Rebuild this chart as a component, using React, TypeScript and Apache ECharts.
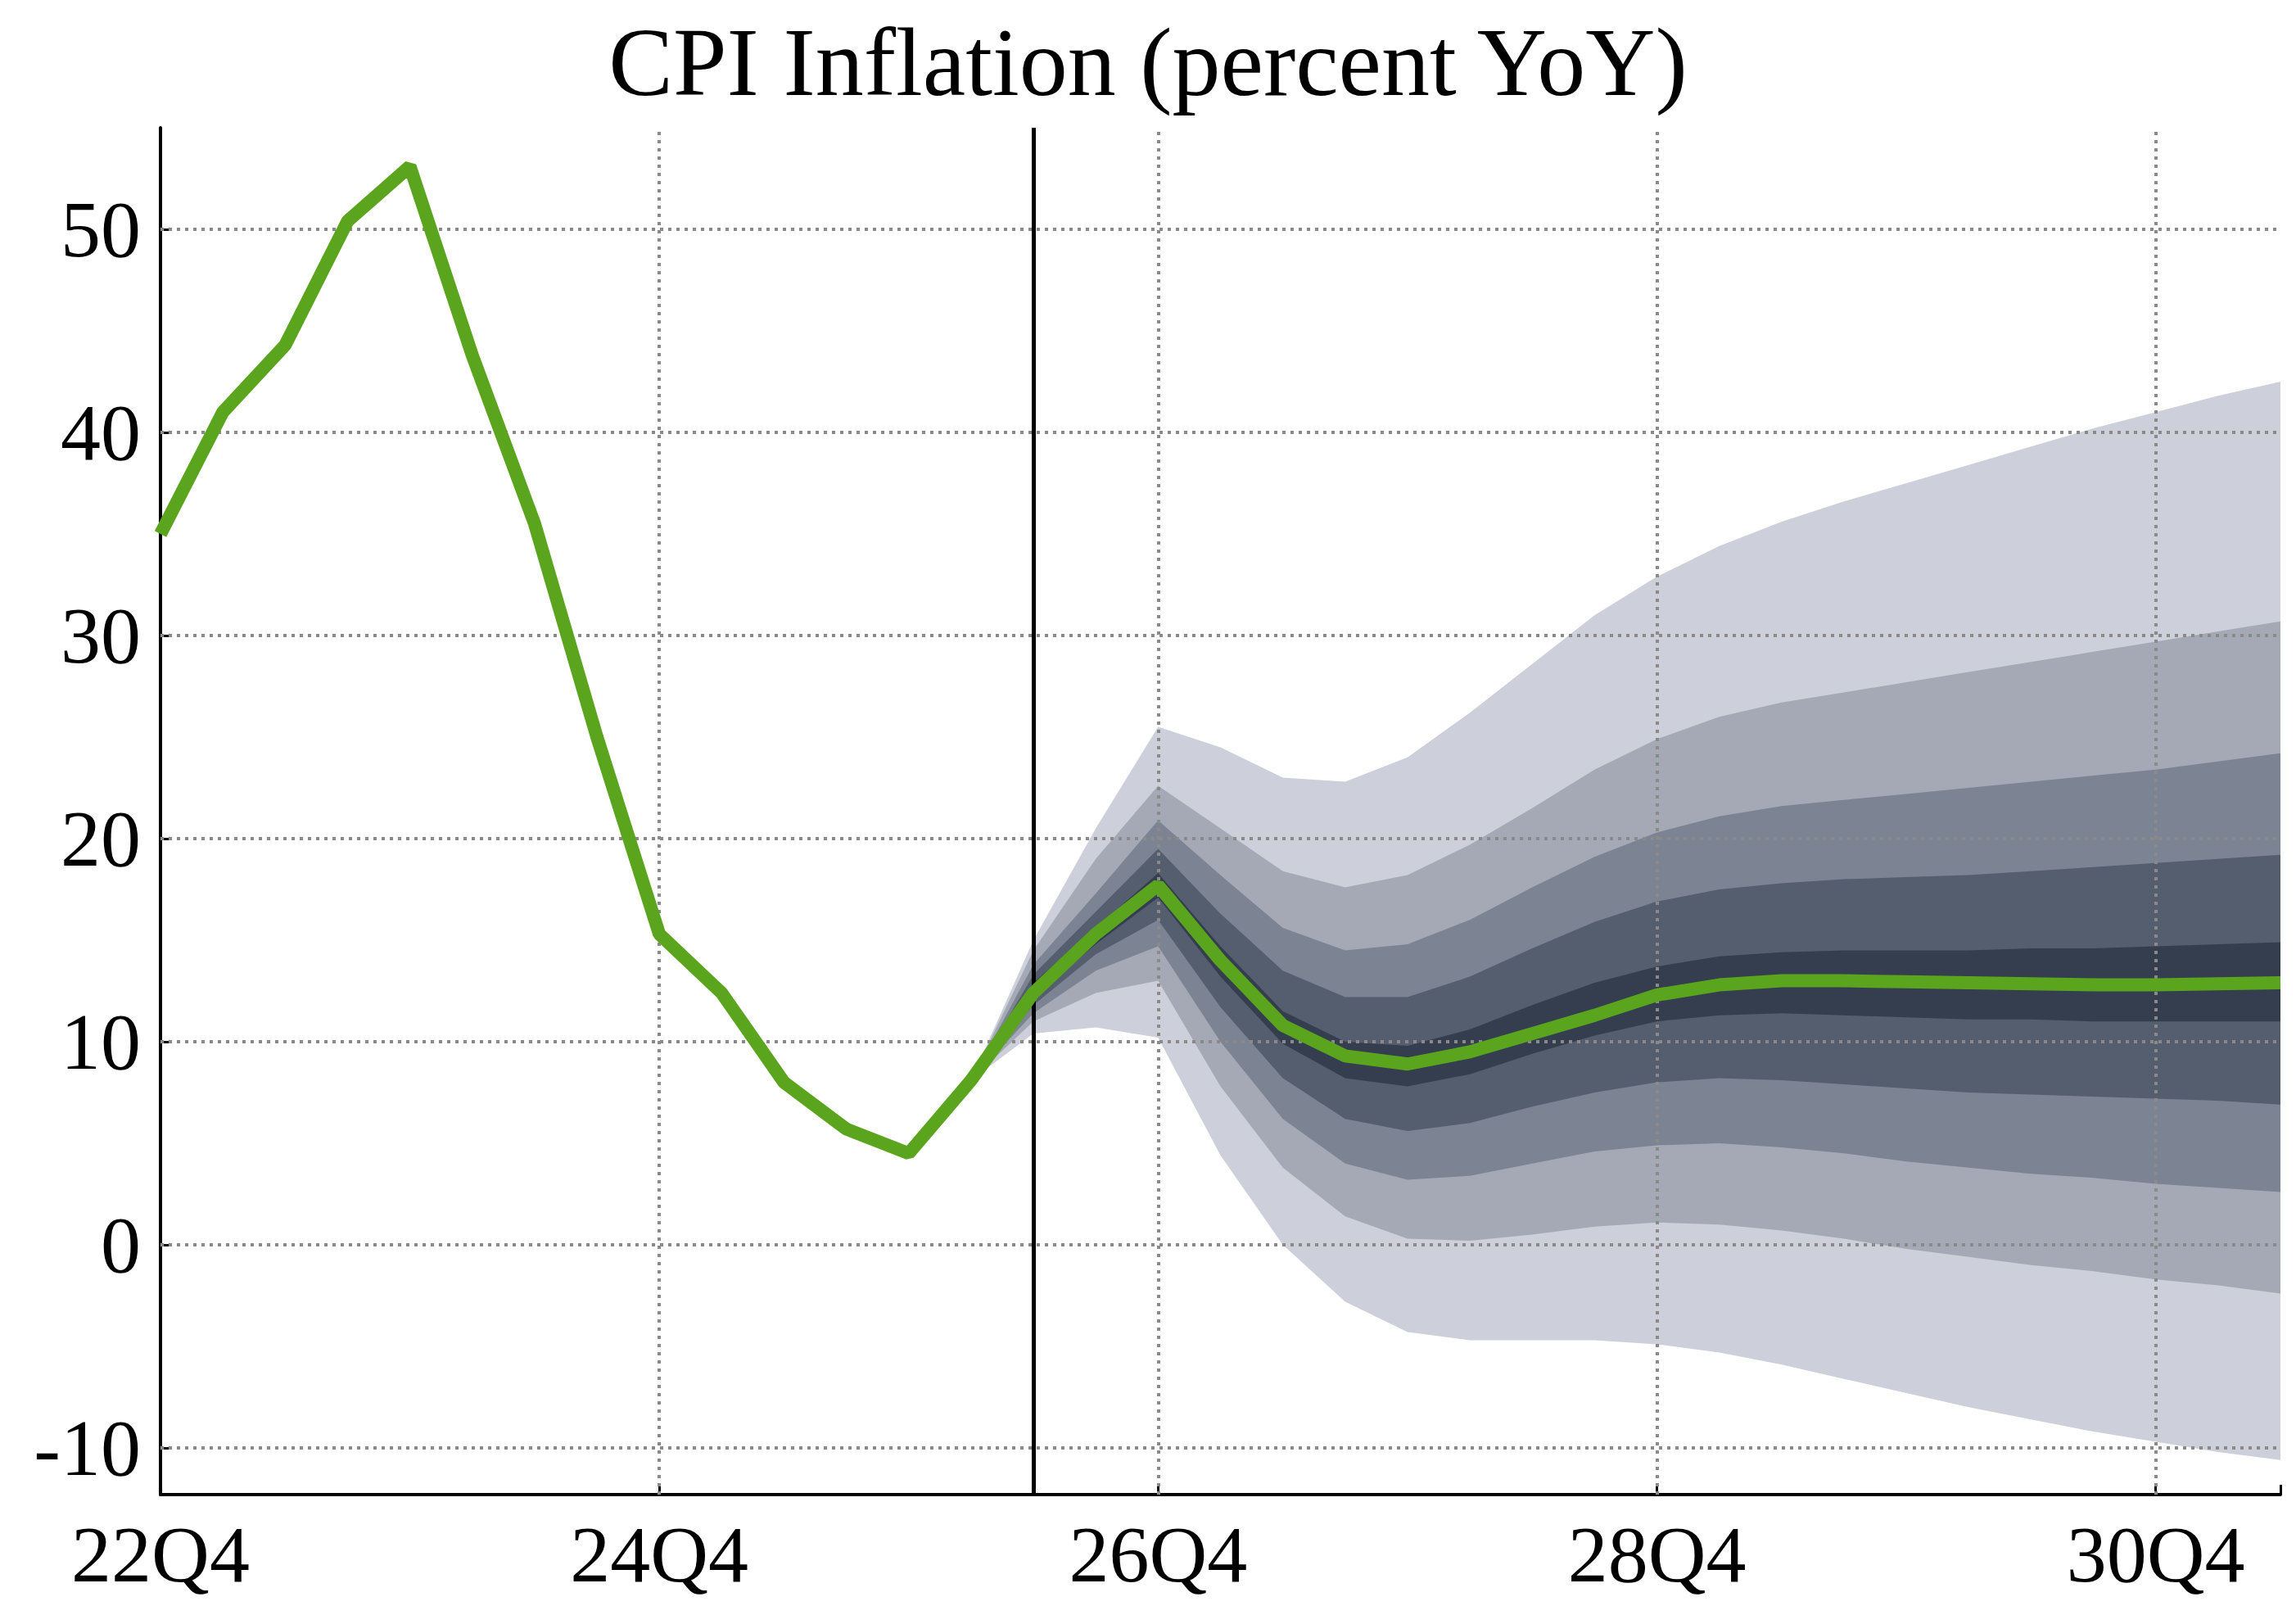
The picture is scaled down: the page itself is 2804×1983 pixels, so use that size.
import React, { useEffect, useRef } from "react";
import * as echarts from "echarts";

const title = "CPI Inflation (percent YoY)";
const xTickLabels: Record<number, string> = { 0: "22Q4", 8: "24Q4", 16: "26Q4", 24: "28Q4", 32: "30Q4" };
const yTicks = [-10, 0, 10, 20, 30, 40, 50];
const forecastStart = 14;
const bandStart = 13;

const cpi = [35, 41, 44.3, 50.4, 53.1, 43.8, 35.5, 25, 15.3, 12.4, 8, 5.7, 4.5, 8.1, 12.4,
  15.3, 17.7, 14, 10.8, 9.3, 8.9, 9.5, 10.4, 11.3, 12.3, 12.8, 13, 13, 12.95, 12.9, 12.85, 12.8, 12.8, 12.85, 12.9];

// bands from index 13 onwards (13 = convergence point)
const b1Up = [8.1, 15, 20.5, 25.5, 24.5, 23, 22.8, 24, 26.2, 28.6, 31, 32.9, 34.4, 35.6, 36.6, 37.5, 38.4, 39.3, 40.2, 41.0, 41.8, 42.5];
const b1Lo = [8.1, 10.4, 10.7, 10.2, 4.4, 0, -2.8, -4.3, -4.7, -4.7, -4.7, -4.9, -5.3, -5.9, -6.6, -7.3, -8, -8.6, -9.2, -9.7, -10.2, -10.6];
const b2Up = [8.1, 14.5, 19, 22.6, 20.5, 18.4, 17.6, 18.2, 19.7, 21.5, 23.4, 24.9, 26, 26.7, 27.2, 27.7, 28.2, 28.7, 29.2, 29.7, 30.2, 30.7];
const b2Lo = [8.1, 11, 12.4, 13, 7.8, 3.8, 1.4, 0.3, 0.2, 0.5, 0.9, 1.1, 1.0, 0.7, 0.3, -0.2, -0.6, -1.0, -1.3, -1.7, -2.0, -2.4];
const b3Up = [8.1, 13.8, 17.3, 20.9, 18.2, 15.6, 14.5, 14.8, 16, 17.6, 19.1, 20.3, 21.1, 21.6, 21.9, 22.2, 22.5, 22.8, 23.1, 23.4, 23.8, 24.2];
const b3Lo = [8.1, 11.4, 13.5, 14.7, 10, 6.2, 4, 3.2, 3.4, 4, 4.6, 4.9, 5, 4.8, 4.5, 4.1, 3.8, 3.5, 3.3, 3.0, 2.8, 2.6];
const b4Up = [8.1, 13.3, 16.4, 19.5, 16.3, 13.5, 12.2, 12.2, 13.2, 14.6, 15.9, 16.9, 17.5, 17.8, 18, 18.1, 18.2, 18.4, 18.6, 18.8, 19, 19.2];
const b4Lo = [8.1, 11.8, 14.3, 16, 11.7, 8.2, 6.2, 5.6, 6, 6.8, 7.5, 8, 8.2, 8.1, 7.9, 7.7, 7.5, 7.4, 7.3, 7.2, 7.1, 6.9];
const b5Up = [8.1, 12.9, 15.6, 18.3, 14.7, 11.5, 10, 9.8, 10.6, 11.8, 12.9, 13.7, 14.2, 14.4, 14.5, 14.5, 14.5, 14.6, 14.6, 14.7, 14.8, 14.9];
const b5Lo = [8.1, 12.2, 14.8, 17.1, 13.2, 9.9, 8.2, 7.8, 8.4, 9.4, 10.3, 11, 11.3, 11.4, 11.3, 11.2, 11.1, 11.1, 11.0, 11.0, 11.0, 11.0];

const bands = [
  { up: b1Up, lo: b1Lo, color: "#cdd0da" },
  { up: b2Up, lo: b2Lo, color: "#a5a9b5" },
  { up: b3Up, lo: b3Lo, color: "#7c8392" },
  { up: b4Up, lo: b4Lo, color: "#545e6e" },
  { up: b5Up, lo: b5Lo, color: "#343e4f" },
];

const FONT = "Liberation Serif";

export default function App() {
  const ref = useRef<HTMLDivElement>(null);
  useEffect(() => {
    const chart = echarts.init(ref.current!, undefined, { renderer: "svg" });
    const series: any[] = [];
    bands.forEach((b, k) => {
      series.push({
        type: "custom", silent: true, z: 2 + k * 0.1,
        data: [[bandStart, b.up[0]]],
        renderItem: (_p: any, api: any) => {
          const pts: number[][] = [];
          b.up.forEach((v, i) => pts.push(api.coord([bandStart + i, v])));
          for (let i = b.lo.length - 1; i >= 0; i--) pts.push(api.coord([bandStart + i, b.lo[i]]));
          return { type: "polygon", shape: { points: pts }, style: { fill: b.color }, z2: k };
        },
      });
    });
    series.push({
      type: "line", symbol: "none", data: [], silent: true,
      markLine: {
        silent: true, symbol: "none", label: { show: false },
        lineStyle: { color: "#8a8a8a", type: [4, 6], width: 4 },
        data: [
          ...yTicks.map((v) => ({ yAxis: v })),
          ...[8, 16, 24, 32].map((v) => ({ xAxis: v })),
        ],
      },
      z: 1,
    });
    series.push({
      type: "line", symbol: "none",
      data: cpi.map((v, i) => [i, v]),
      lineStyle: { color: "#5aa41e", width: 16 },
      z: 5,
      markLine: {
        silent: true, symbol: "none", label: { show: false },
        lineStyle: { color: "#000", type: "solid", width: 5 },
        data: [{ xAxis: forecastStart }],
      },
    });
    chart.setOption({
      animation: false,
      title: {
        text: title, left: "center", top: 4,
        textStyle: { fontFamily: FONT, fontSize: 118, fontWeight: "normal", color: "#000" },
      },
      grid: { left: 188, right: 11, top: 148, bottom: 150 },
      xAxis: {
        type: "value", min: 0, max: 34, interval: 8,
        axisLine: { onZero: false, lineStyle: { color: "#000", width: 4 } },
        axisTick: { inside: true, length: 12, lineStyle: { color: "#000", width: 3 } },
        axisLabel: {
          fontFamily: FONT, fontSize: 98, color: "#000", margin: 24,
          formatter: (v: number) => xTickLabels[v] ?? "",
        },
        splitLine: { show: false },
      },
      yAxis: {
        type: "value", min: -12.3, max: 55,
        axisLine: { show: true, onZero: false, lineStyle: { color: "#000", width: 4 } },
        axisTick: { show: true, inside: true, length: 12, customValues: yTicks, lineStyle: { color: "#000", width: 3 } },
        axisLabel: { fontFamily: FONT, fontSize: 98, color: "#000", margin: 24, customValues: yTicks },
        splitLine: { show: false },
      },
      series,
    });
    return () => chart.dispose();
  }, []);
  return <div ref={ref} style={{ width: 2788, height: 1967 }} />;
}
